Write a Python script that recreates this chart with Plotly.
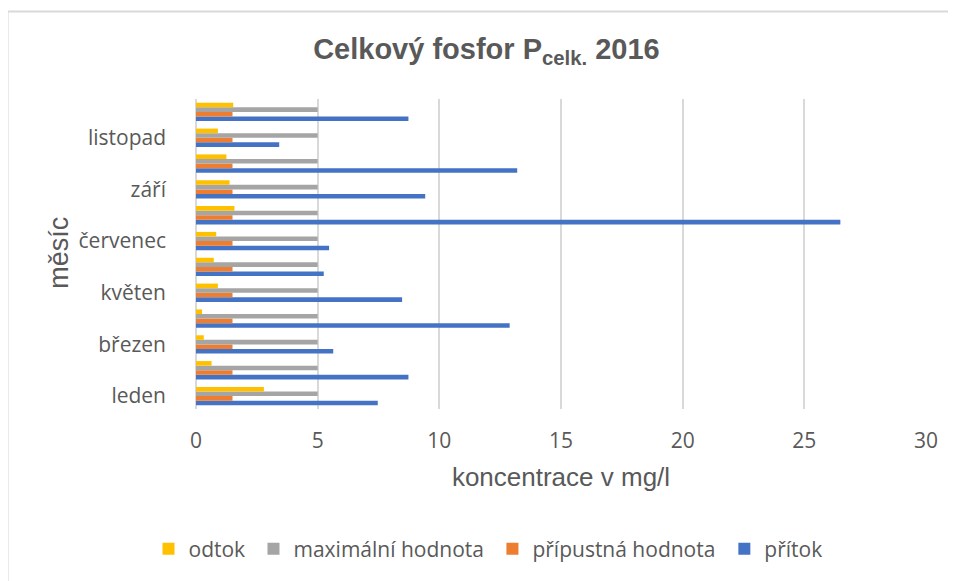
import plotly.graph_objects as go

months = ["leden", "únor", "březen", "duben", "květen", "červen",
          "červenec", "srpen", "září", "říjen", "listopad", "prosinec"]
pritok = [7.47, 8.73, 5.64, 12.89, 8.47, 5.25, 5.47, 26.48, 9.42, 13.2, 3.42, 8.73]
pripustna = [1.5] * 12
maximalni = [5] * 12
odtok = [2.79, 0.64, 0.32, 0.25, 0.9, 0.73, 0.83, 1.58, 1.38, 1.25, 0.9, 1.53]
x_ticks = [0, 5, 10, 15, 20, 25, 30]

W, H = 956, 581
OFF = 8  # page body margin of the html page
# plot area in page pixels
P_LEFT, P_RIGHT, P_TOP, P_BOTTOM = 195.5, 925.7, 98.6, 408.8
ML = P_LEFT - OFF
MR = W - (P_RIGHT - OFF)
MT = P_TOP - OFF
MB = H - (P_BOTTOM - OFF)
PW, PH = W - ML - MR, H - MT - MB

GREY_TXT = "#595959"
TICKFONT = dict(family="Open Sans", size=21, color=GREY_TXT)


def px_to_paper_x(px):
    return (px - OFF - ML) / PW


def px_to_paper_y(py):
    return (H - MB - (py - OFF)) / PH


series = [
    ("přítok", pritok, "#4472C4", "legend4", 762),
    ("přípustná hodnota", pripustna, "#ED7D31", "legend3", 530),
    ("maximální hodnota", maximalni, "#A5A5A5", "legend2", 291),
    ("odtok", odtok, "#FFC000", "legend", 186),
]

fig = go.Figure()
legends = {}
for name, vals, col, lg, text_x in series:
    fig.add_trace(go.Bar(y=months, x=vals, name=name, orientation="h", legend=lg,
                         marker=dict(color=col, line=dict(width=0))))
    legends[lg] = dict(orientation="h",
                       x=px_to_paper_x(text_x - 38), xanchor="left",
                       y=px_to_paper_y(549), yanchor="middle",
                       font=dict(family="Open Sans", size=21, color=GREY_TXT),
                       bgcolor="rgba(0,0,0,0)", itemclick=False, itemdoubleclick=False)

fig.update_layout(
    width=W, height=H,
    margin=dict(l=ML, r=MR, t=MT, b=MB, pad=0),
    paper_bgcolor="white", plot_bgcolor="white",
    barmode="group", bargap=0.29, bargroupgap=0,
    title=dict(text="<b>Celkový fosfor P<sub>celk.</sub> 2016</b>",
               font=dict(family="Liberation Sans", size=29, color=GREY_TXT),
               x=px_to_paper_x(486), xref="paper", xanchor="center",
               y=1 - (49 - OFF) / H, yanchor="middle"),
    xaxis=dict(range=[0, 30], tickvals=x_ticks, ticktext=[str(v) for v in x_ticks],
               showgrid=True, gridcolor="#d9d9d9", gridwidth=1.8,
               zeroline=True, zerolinecolor="#d9d9d9", zerolinewidth=1.8,
               showline=False, ticks="", tickfont=TICKFONT, ticklabelstandoff=17,
               title=dict(text="koncentrace v mg/l", standoff=14,
                          font=dict(family="Liberation Sans", size=26, color=GREY_TXT)),
               fixedrange=True),
    yaxis=dict(categoryorder="array", categoryarray=months,
               tickvals=months[::2], ticktext=months[::2],
               showgrid=False, showline=False, ticks="",
               tickfont=TICKFONT, ticklabelstandoff=29,
               fixedrange=True),
    annotations=[
        dict(text="měsíc", textangle=-90, showarrow=False,
             xref="paper", yref="paper",
             x=px_to_paper_x(59), y=px_to_paper_y(253),
             xanchor="center", yanchor="middle",
             font=dict(family="Liberation Sans", size=27, color=GREY_TXT)),
    ],
    showlegend=True,
    shapes=[
        dict(type="line", xref="paper", yref="paper",
             x0=px_to_paper_x(7), x1=px_to_paper_x(7),
             y0=px_to_paper_y(11), y1=px_to_paper_y(600),
             line=dict(color="#d9d9d9", width=2)),
        dict(type="line", xref="paper", yref="paper",
             x0=px_to_paper_x(7), x1=px_to_paper_x(1000),
             y0=px_to_paper_y(11), y1=px_to_paper_y(11),
             line=dict(color="#d9d9d9", width=2)),
    ],
    **legends,
)

fig.write_html("out.html")
